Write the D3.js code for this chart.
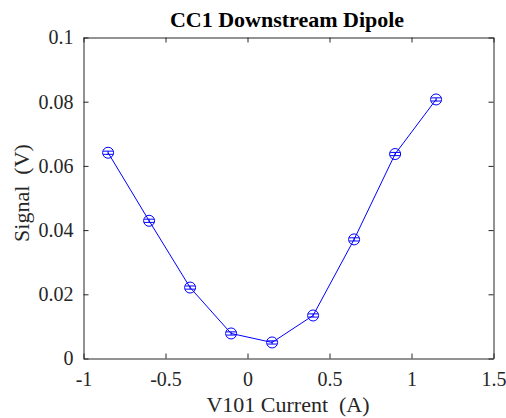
<!DOCTYPE html>
<html><head><meta charset="utf-8">
<script src="https://cdn.jsdelivr.net/npm/d3@7"></script>
<style>body{margin:0;background:#fff}svg{display:block}</style>
</head><body>
<script>
const current = [-0.85, -0.6, -0.35, -0.1, 0.15, 0.4, 0.65, 0.9, 1.15];
const signal = [0.0641, 0.0429, 0.0221, 0.0078, 0.0050, 0.0134, 0.0371, 0.0637, 0.0807];
const errs = [0.0005, 0.0005, 0.0005, 0.0005, 0.0005, 0.0005, 0.0005, 0.0005, 0.0005];
const xTicks = [-1, -0.5, 0, 0.5, 1, 1.5];
const yTicks = [0, 0.02, 0.04, 0.06, 0.08, 0.1];
const title = "CC1 Downstream Dipole";
const xLabel = "V101 Current\u00a0 (A)";
const yLabel = "Signal\u00a0 (V)";

const FONT = "Liberation Serif, Times New Roman, serif";
const W = 506, H = 418;
const L = 83.5, R = 493.5, T = 37.5, B = 358.5;
const svg = d3.select("body").append("svg").attr("width", W).attr("height", H);
const x = d3.scaleLinear().domain([-1, 1.5]).range([L, R]);
const y = d3.scaleLinear().domain([0, 0.1]).range([B, T]);
const blue = "#0000ff";

const fmt = d => (d === 0 ? "0" : String(d));
const tl = 5;
const xb = svg.append("g").attr("transform", `translate(0,${B})`)
  .call(d3.axisBottom(x).tickValues(xTicks).tickFormat(fmt).tickSizeInner(-tl).tickSizeOuter(0).tickPadding(12));
const xt = svg.append("g").attr("transform", `translate(0,${T})`)
  .call(d3.axisTop(x).tickValues(xTicks).tickFormat("").tickSizeInner(-tl).tickSizeOuter(0));
const yl = svg.append("g").attr("transform", `translate(${L},0)`)
  .call(d3.axisLeft(y).tickValues(yTicks).tickFormat(fmt).tickSizeInner(-tl).tickSizeOuter(0).tickPadding(10));
const yr = svg.append("g").attr("transform", `translate(${R},0)`)
  .call(d3.axisRight(y).tickValues(yTicks).tickFormat("").tickSizeInner(-tl).tickSizeOuter(0));
[xb, xt, yl, yr].forEach(ax => {
  ax.attr("font-family", FONT).attr("font-size", 20);
  ax.selectAll(".domain").attr("stroke", "#262626");
  ax.selectAll(".tick line").attr("stroke", "#262626");
  ax.selectAll(".tick text").attr("fill", "#262626")
    .style("font-family", FONT).style("font-size", "20px");
});
xb.selectAll(".tick text").attr("dy", null).attr("y", 27);

const line = d3.line().x((d, i) => x(current[i])).y(d => y(d));
svg.append("path").datum(signal).attr("d", line).attr("fill", "none").attr("stroke", blue).attr("stroke-width", 1);

const mg = svg.append("g");
signal.forEach((s, i) => {
  const cx = x(current[i]);
  mg.append("line").attr("x1", cx).attr("x2", cx).attr("y1", y(s - errs[i])).attr("y2", y(s + errs[i])).attr("stroke", blue);
  [s - errs[i], s + errs[i]].forEach(v => {
    mg.append("line").attr("x1", cx - 5).attr("x2", cx + 5).attr("y1", y(v)).attr("y2", y(v)).attr("stroke", blue);
  });
  mg.append("circle").attr("cx", cx).attr("cy", y(s)).attr("r", 5.5).attr("fill", "none").attr("stroke", blue);
});

svg.append("text").attr("x", 287).attr("y", 27).attr("text-anchor", "middle")
  .style("font-family", FONT).style("font-size", "22px").style("font-weight", "bold").attr("fill", "#000").text(title);
svg.append("text").attr("x", 288).attr("y", 412).attr("text-anchor", "middle")
  .style("font-family", FONT).style("font-size", "22px").attr("fill", "#262626").text(xLabel);
svg.append("text").attr("transform", `translate(29,193) rotate(-90)`).attr("text-anchor", "middle")
  .style("font-family", FONT).style("font-size", "22px").attr("fill", "#262626").text(yLabel);
</script>
</body></html>
